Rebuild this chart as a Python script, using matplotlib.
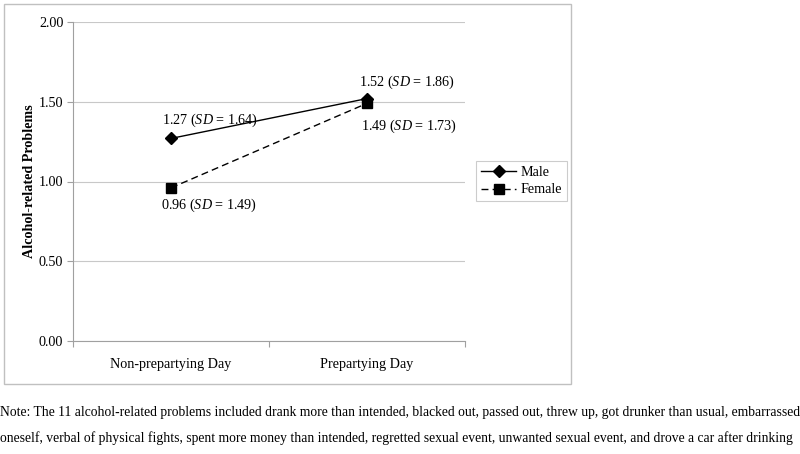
import matplotlib
matplotlib.use('Agg')
import matplotlib.pyplot as plt
from matplotlib.patches import Rectangle

# fonts: Times-like
plt.rcParams['font.family'] = 'Liberation Serif'
plt.rcParams['mathtext.fontset'] = 'custom'
plt.rcParams['mathtext.rm'] = 'Liberation Serif'
plt.rcParams['mathtext.it'] = 'Liberation Serif:italic'

# data
days = ['Non-prepartying Day', 'Prepartying Day']
male_means = [1.27, 1.52]
male_sds = [1.64, 1.86]
female_means = [0.96, 1.49]
female_sds = [1.49, 1.73]
yticks = [0.0, 0.5, 1.0, 1.5, 2.0]
note = ('Note: The 11 alcohol-related problems included drank more than intended, blacked out, passed out, '
        'threw up, got drunker than usual, embarrassed\n'
        'oneself, verbal of physical fights, spent more money than intended, regretted sexual event, '
        'unwanted sexual event, and drove a car after drinking')

fig = plt.figure(figsize=(8, 4.54), dpi=100)
ax = fig.add_axes([73 / 800, 1 - 341 / 454, 392 / 800, 319 / 454])

xpos = [0.5, 1.5]
ax.plot(xpos, male_means, color='black', lw=1, marker='D', ms=6, label='Male')
ax.plot(xpos, female_means, color='black', lw=1, ls=(0, (5, 3)), marker='s', ms=6.5, label='Female')

# value labels
fs = 10.2
offs_m = [(-9, 18), (-8, 16)]
offs_f = [(-10, -17), (-6, -23)]
for x, m, s, o in zip(xpos, male_means, male_sds, offs_m):
    ax.annotate('%.2f ($SD$ = %.2f)' % (m, s), (x, m), xytext=o, textcoords='offset pixels',
                ha='left', va='center', fontsize=fs)
for x, m, s, o in zip(xpos, female_means, female_sds, offs_f):
    ax.annotate('%.2f ($SD$ = %.2f)' % (m, s), (x, m), xytext=o, textcoords='offset pixels',
                ha='left', va='center', fontsize=fs)

ax.set_xlim(0, 2)
ax.set_ylim(0, 2)
ax.set_yticks(yticks)
ax.set_yticklabels(['%.2f' % v for v in yticks], fontsize=fs)
ax.set_xticks([0, 1, 2])
ax.set_xticklabels([])
ax.set_xticks(xpos, minor=True)
ax.set_xticklabels(days, minor=True, fontsize=fs)
ax.tick_params(axis='x', which='minor', length=0, pad=12)
ax.tick_params(axis='x', which='major', length=4, color='#a0a0a0')
ax.tick_params(axis='y', length=4, color='#a0a0a0', pad=3)
ax.grid(axis='y', color='#c8c8c8', lw=0.8)
ax.set_axisbelow(True)
for side in ['top', 'right']:
    ax.spines[side].set_visible(False)
for side in ['left', 'bottom']:
    ax.spines[side].set_color('#a0a0a0')
ax.set_ylabel('Alcohol-related Problems', fontsize=fs, fontweight='bold', labelpad=2)

leg = ax.legend(loc='center left', bbox_to_anchor=(476 / 800, 1 - 202 / 454, 91 / 800, 42 / 454),
                bbox_transform=fig.transFigure, fontsize=fs, frameon=True, fancybox=False,
                handlelength=2.5, borderaxespad=0, borderpad=0.35, labelspacing=0.35, handletextpad=0.3)
leg.get_frame().set_edgecolor('#c0c0c0')
leg.get_frame().set_linewidth(0.8)

# outer chart border
fig.patches.append(Rectangle((4 / 800, 1 - 384 / 454), 567 / 800, 380 / 454, transform=fig.transFigure,
                             fill=False, edgecolor='#c0c0c0', lw=1))

fig.text(0.0, 1 - 406 / 454, note, ha='left', va='top', fontsize=9.78, linespacing=2.15)

fig.savefig('out.png', dpi=100)
